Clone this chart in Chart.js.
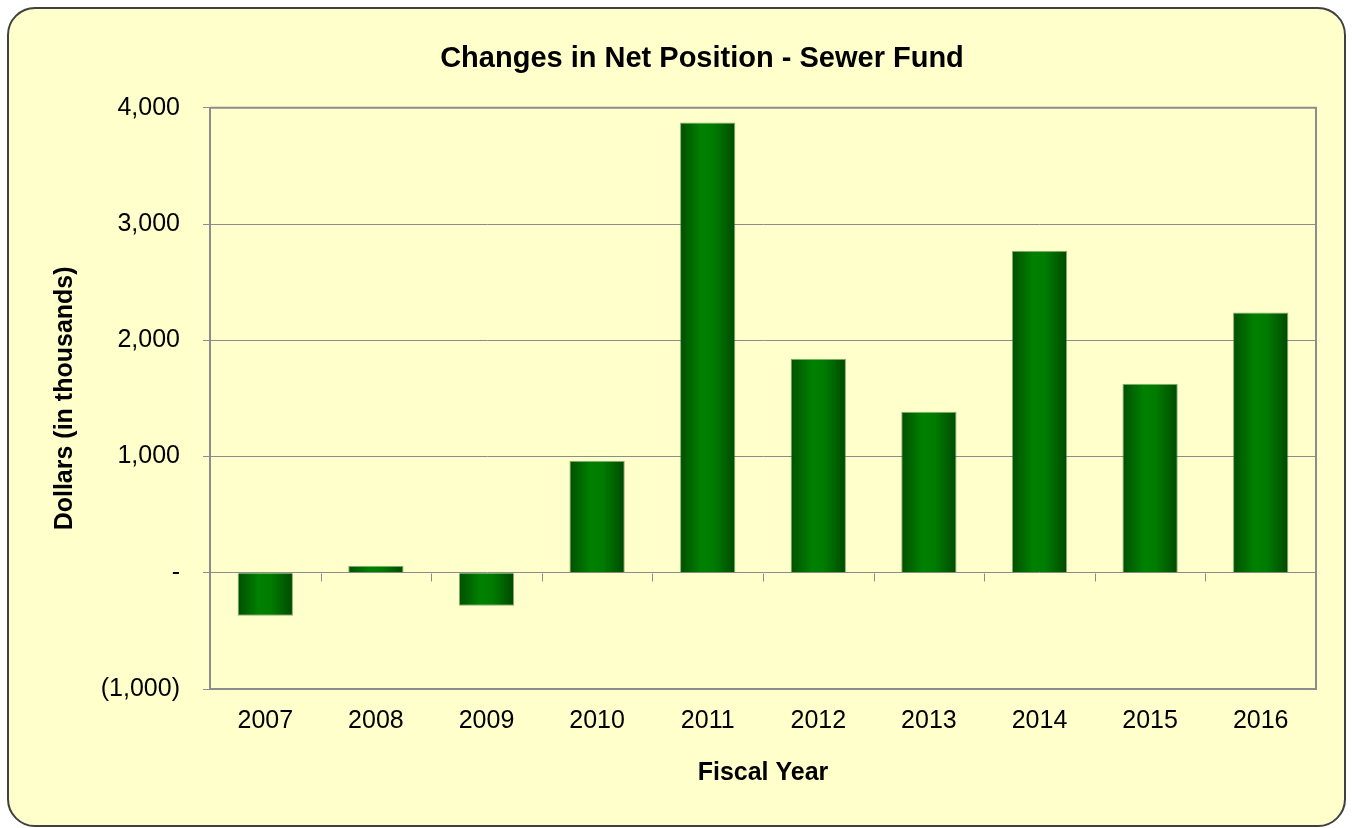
<!DOCTYPE html>
<html>
<head>
<meta charset="utf-8">
<script src="https://cdn.jsdelivr.net/npm/chart.js@4"></script>
<style>
html, body { margin: 0; padding: 0; background: #fff; }
#frame { position: absolute; left: 7px; top: 7px; width: 1335px; height: 816px; border: 2px solid #404040; border-radius: 28px; background: #ffffcc; }
#myChart { position: absolute; left: 0; top: 0; }
</style>
</head>
<body>
<div id="frame"></div>
<canvas id="myChart" width="1352" height="828"></canvas>
<script>
let labels = ['2007', '2008', '2009', '2010', '2011', '2012', '2013', '2014', '2015', '2016'];
let values = [-370, 60, -284, 964, 3873, 1842, 1386, 2771, 1627, 2238];
let tickValues = [-1000, 0, 1000, 2000, 3000, 4000];
let tickLabels = ['(1,000)', '-', '1,000', '2,000', '3,000', '4,000'];

let fontFamily = "'Liberation Sans', Arial, sans-serif";
let axisGray = '#8c8c8c';

// frame round the plot + small ticks on the zero line
let plotFrame = {
    id: 'plotFrame',
    afterDatasetsDraw(chart) {
        let {ctx, chartArea: a, scales} = chart;
        ctx.save();
        ctx.strokeStyle = axisGray;
        ctx.lineWidth = 2;
        ctx.beginPath();
        ctx.moveTo(a.left, a.top);
        ctx.lineTo(a.right, a.top);
        ctx.lineTo(a.right, a.bottom);
        ctx.lineTo(a.left, a.bottom);
        ctx.stroke();
        let y0 = Math.round(scales.y.getPixelForValue(0)) + 0.5;
        let step = a.width / labels.length;
        ctx.lineWidth = 1;
        ctx.beginPath();
        for (let i = 1; i < labels.length; i++) {
            let x = Math.round(a.left + i * step) + 0.5;
            ctx.moveTo(x, y0);
            ctx.lineTo(x, y0 + 8);
        }
        ctx.stroke();
        ctx.restore();
    }
};

let ctx = document.getElementById('myChart').getContext('2d');

let myChart = new Chart(ctx, {
    type: 'bar',
    data: {
        labels: labels,
        datasets: [{
            data: values,
            barPercentage: 0.5,
            categoryPercentage: 1.0,
            borderWidth: 1,
            borderColor: 'rgba(60,120,60,0.6)',
            backgroundColor: (context) => {
                let chart = context.chart;
                if (!chart.chartArea || context.dataIndex === undefined) return '#007000';
                let xs = chart.scales.x;
                let cx = xs.getPixelForValue(context.dataIndex);
                let w = xs.width / labels.length * 0.5;
                let g = chart.ctx.createLinearGradient(cx - w / 2, 0, cx + w / 2, 0);
                g.addColorStop(0, '#004f00');
                g.addColorStop(0.38, '#008000');
                g.addColorStop(0.6, '#007c00');
                g.addColorStop(1, '#004a00');
                return g;
            }
        }]
    },
    options: {
        responsive: false,
        animation: false,
        layout: {
            // left padding shifts the title centre to match the original
            padding: { left: 88, right: 36, top: 0, bottom: 0 }
        },
        plugins: {
            legend: { display: false },
            tooltip: { enabled: false },
            title: {
                display: true,
                text: 'Changes in Net Position - Sewer Fund',
                color: '#000',
                font: { family: fontFamily, size: 29, weight: 'bold' },
                padding: { top: 42, bottom: 31 }
            }
        },
        scales: {
            x: {
                grid: { display: false, drawTicks: false },
                border: { display: false },
                ticks: {
                    color: '#000',
                    padding: 17,
                    font: { family: fontFamily, size: 25 }
                },
                title: {
                    display: true,
                    text: 'Fiscal Year',
                    color: '#000',
                    font: { family: fontFamily, size: 25, weight: 'bold' },
                    padding: { top: 0, bottom: 40 }
                },
                afterFit: (scale) => { scale.height = 139; }
            },
            y: {
                min: -1000,
                max: 4000,
                grid: {
                    color: axisGray,
                    lineWidth: 1,
                    drawTicks: true,
                    tickLength: 7
                },
                border: { color: axisGray, width: 2 },
                ticks: {
                    stepSize: 1000,
                    color: '#000',
                    padding: 23,
                    font: { family: fontFamily, size: 25 },
                    callback: (value) => {
                        let i = tickValues.indexOf(value);
                        return i >= 0 ? tickLabels[i] : '';
                    }
                },
                title: {
                    display: true,
                    text: 'Dollars (in thousands)',
                    color: '#000',
                    font: { family: fontFamily, size: 25, weight: 'bold' },
                    padding: { top: -38, bottom: 0 }
                },
                afterFit: (scale) => { scale.width = 122; }
            }
        }
    },
    plugins: [plotFrame]
});
</script>
</body>
</html>
